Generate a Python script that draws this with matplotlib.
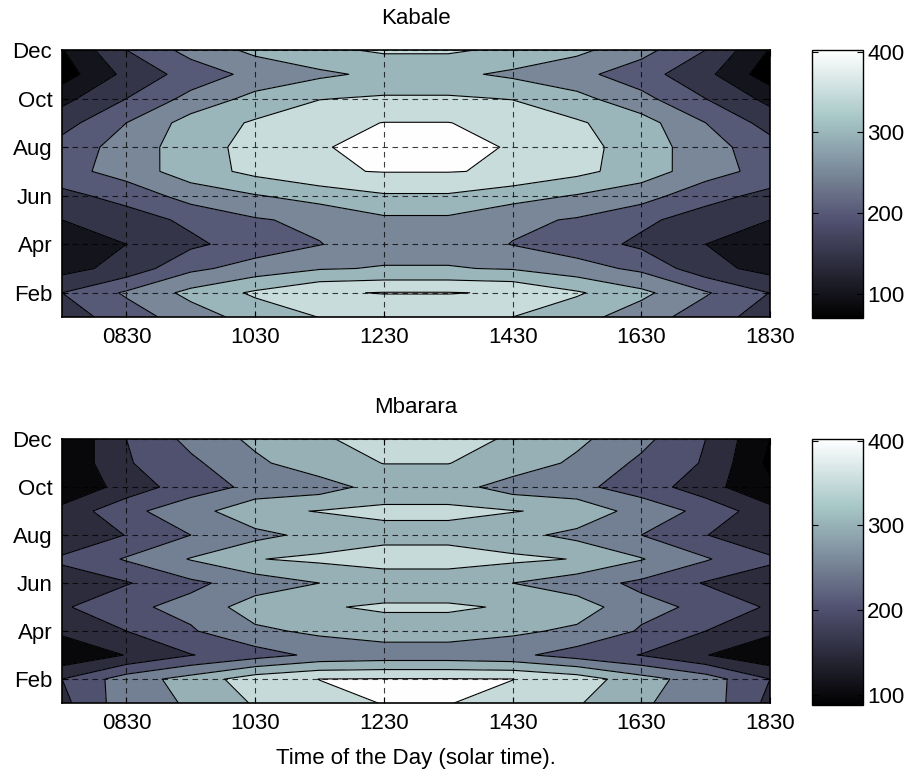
import matplotlib.pyplot as plt
import numpy as np
from matplotlib.colors import Normalize
from matplotlib.cm import ScalarMappable

plt.rcParams['font.family'] = ['Liberation Sans', 'DejaVu Sans']
plt.rcParams['font.size'] = 16

# hourly columns 0730 ... 1830, monthly rows Jan ... Dec
hours = np.arange(1, 13)
months = np.arange(1, 13)
hour_ticks = [2, 4, 6, 8, 10, 12]
hour_labels = ['0830', '1030', '1230', '1430', '1630', '1830']
month_ticks = [2, 4, 6, 8, 10, 12]
month_labels = ['Feb', 'Apr', 'Jun', 'Aug', 'Oct', 'Dec']
levels = [100, 150, 200, 250, 300, 350, 400]

kabale = [
    [175, 225, 276, 320, 351, 365, 365, 350, 318, 274, 224, 176],  # Jan
    [200, 257, 314, 358, 395, 402, 402, 396, 356, 312, 255, 199],  # Feb
    [132, 168, 239, 270, 296, 303, 303, 296, 270, 239, 168, 132],  # Mar
    [120, 150, 190, 223, 248, 280, 280, 248, 223, 190, 150, 120],  # Apr
    [150, 178, 210, 245, 262, 290, 290, 262, 245, 210, 178, 150],  # May
    [187, 217, 272, 297, 320, 345, 345, 320, 297, 272, 217, 187],  # Jun
    [230, 273, 325, 364, 395, 402, 402, 395, 364, 325, 273, 230],  # Jul
    [220, 271, 327, 367, 399.5, 402, 402, 399.5, 367, 327, 271, 220],  # Aug
    [180, 250, 321, 356, 385, 401, 401, 385, 356, 321, 250, 180],  # Sep
    [135, 200, 265, 315, 348, 356, 356, 348, 315, 265, 200, 135],  # Oct
    [75, 164, 221, 265, 290, 312, 312, 290, 265, 221, 164, 70],  # Nov
    [97, 200, 268, 312, 340, 357, 357, 340, 312, 268, 200, 97],  # Dec
]

mbarara = [
    [186, 279, 305, 355, 390, 401, 401, 390, 355, 305, 279, 186],  # Jan
    [200, 275, 320, 377, 400.5, 402, 402, 400.5, 377, 320, 275, 200],  # Feb
    [110, 152, 198, 228, 262, 270, 270, 262, 228, 198, 152, 110],  # Mar
    [160, 200, 245, 290, 310, 326, 326, 310, 290, 245, 200, 160],  # Apr
    [193, 240, 264, 326, 345, 357, 357, 345, 326, 264, 240, 193],  # May
    [185, 196, 240, 271, 300, 316, 316, 300, 271, 240, 196, 185],  # Jun
    [205, 255, 303, 348, 360, 374, 374, 360, 348, 303, 255, 205],  # Jul
    [175, 201, 250, 285, 316, 333, 333, 316, 285, 250, 201, 175],  # Aug
    [165, 238, 276, 340, 352, 361, 361, 352, 340, 276, 238, 165],  # Sep
    [110, 168, 230, 260, 277, 321, 321, 277, 260, 230, 168, 110],  # Oct
    [105, 195, 240, 290, 330, 351, 351, 330, 290, 240, 195, 88],  # Nov
    [100, 200, 264, 311, 340, 380, 380, 340, 311, 264, 200, 100],  # Dec
]

cmap = plt.get_cmap('bone')


def draw(ax, cax, data, title):
    z = np.array(data, dtype=float)
    norm = Normalize(z.min(), z.max())
    # matlab style: each band takes the colour of its lower level
    edges = [z.min() - 1] + levels + [z.max() + 1]
    colors = [cmap(norm(max(e, z.min()))) for e in edges[:-1]]
    ax.contourf(hours, months, z, levels=edges, colors=colors)
    ax.contour(hours, months, z, levels=levels, colors='k', linewidths=0.8)

    ax.set_xlim(1, 12)
    ax.set_ylim(1, 12)
    ax.set_xticks(hour_ticks)
    ax.set_xticklabels(hour_labels)
    ax.set_yticks(month_ticks)
    ax.set_yticklabels(month_labels)
    ax.tick_params(direction='in', length=4, pad=7, top=True, right=True)
    ax.grid(True, color='k', linestyle=(0, (5, 4)), linewidth=0.8, alpha=0.75)
    for s in ax.spines.values():
        s.set_linewidth(1.2)
    ax.set_title(title, fontsize=16, pad=19)

    cb = plt.colorbar(ScalarMappable(norm=norm, cmap=cmap), cax=cax, ticks=[100, 200, 300, 400])
    cb.outline.set_linewidth(1.0)
    cax.tick_params(direction='in', length=4, left=True, right=True, pad=3)


fig = plt.figure(figsize=(9.15, 7.74), dpi=100)
ax1 = fig.add_axes([0.0678, 0.5904, 0.7738, 0.345])
cax1 = fig.add_axes([0.8874, 0.5891, 0.0557, 0.3463])
ax2 = fig.add_axes([0.0678, 0.0917, 0.7738, 0.341])
cax2 = fig.add_axes([0.8874, 0.0891, 0.0557, 0.3437])

draw(ax1, cax1, kabale, 'Kabale')
draw(ax2, cax2, mbarara, 'Mbarara')
ax2.set_xlabel('Time of the Day (solar time).', labelpad=10)

fig.savefig('out.png', dpi=100)
